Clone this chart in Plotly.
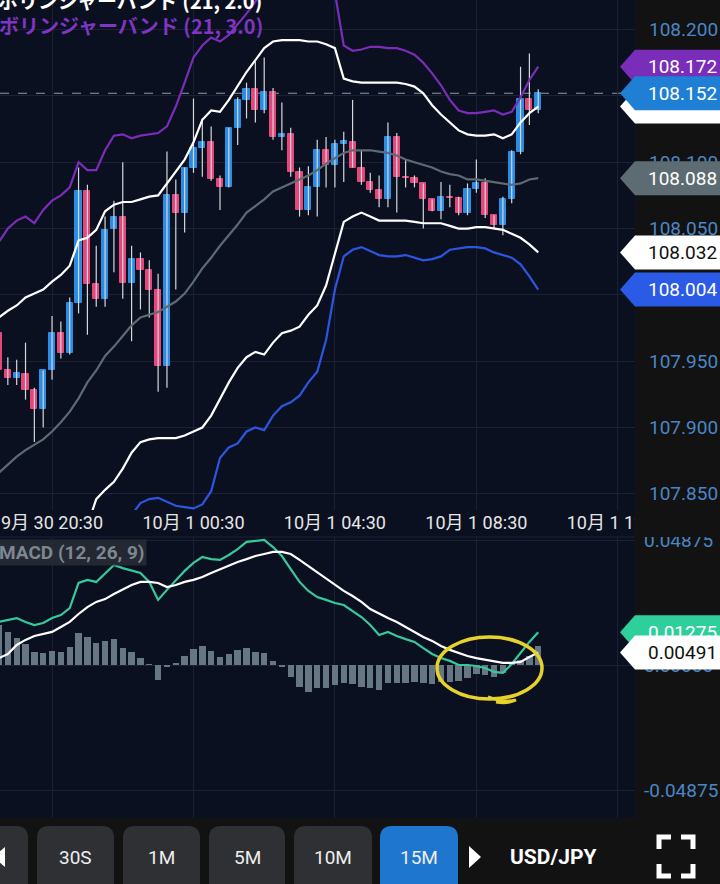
import pandas as pd
import plotly.graph_objects as go

# ---------------- data ----------------
times = pd.date_range("2019-09-30 19:00", periods=62, freq="15min")

open_ = [107.971,107.943,107.937,107.940,107.928,107.914,107.943,107.971,107.956,107.994,
         108.078,108.008,107.997,108.050,108.059,108.009,108.027,108.019,108.004,107.946,
         108.075,108.062,108.096,108.111,108.115,108.087,108.081,108.126,108.147,108.155,
         108.139,108.153,108.119,108.121,108.093,108.064,108.081,108.109,108.098,108.114,
         108.115,108.096,108.085,108.079,108.072,108.119,108.089,108.088,108.084,108.072,
         108.063,108.074,108.073,108.062,108.080,108.084,108.060,108.053,108.072,108.108,
         108.148,108.139]
high = [107.979,107.953,107.951,107.964,107.930,107.943,107.984,107.980,107.998,108.096,
        108.083,108.037,108.059,108.071,108.100,108.037,108.032,108.026,108.016,108.108,
        108.087,108.096,108.148,108.133,108.127,108.090,108.126,108.149,108.160,108.176,
        108.179,108.156,108.145,108.126,108.096,108.097,108.117,108.119,108.117,108.123,
        108.147,108.109,108.092,108.090,108.130,108.122,108.102,108.090,108.084,108.072,
        108.085,108.083,108.074,108.084,108.102,108.088,108.060,108.074,108.109,108.172,
        108.182,108.155]
low = [107.936,107.932,107.932,107.921,107.889,107.900,107.936,107.952,107.955,107.986,
       107.970,107.991,107.991,108.017,107.997,107.965,107.989,107.983,107.927,107.930,
       108.004,108.047,108.092,108.089,108.086,108.064,108.081,108.113,108.133,108.130,
       108.137,108.117,108.109,108.089,108.059,108.060,108.059,108.081,108.081,108.085,
       108.096,108.083,108.077,108.066,108.066,108.062,108.081,108.081,108.050,108.063,
       108.057,108.066,108.060,108.060,108.077,108.058,108.050,108.045,108.069,108.106,
       108.128,108.137]
close = [107.943,107.937,107.941,107.928,107.914,107.943,107.971,107.956,107.994,108.078,
         108.008,107.997,108.049,108.059,108.009,108.027,108.019,108.004,107.946,108.075,
         108.062,108.096,108.111,108.115,108.087,108.081,108.126,108.147,108.155,108.139,
         108.153,108.119,108.121,108.093,108.064,108.081,108.109,108.098,108.114,108.116,
         108.096,108.085,108.079,108.072,108.119,108.089,108.088,108.084,108.072,108.063,
         108.074,108.073,108.062,108.080,108.084,108.060,108.053,108.072,108.108,108.148,
         108.139,108.152]

bb_mid = [107.866,107.872,107.878,107.883,107.887,107.891,107.897,107.904,107.912,107.922,
          107.934,107.943,107.954,107.961,107.969,107.977,107.983,107.985,107.987,107.991,
          107.995,108.001,108.010,108.020,108.028,108.037,108.045,108.053,108.062,108.067,
          108.072,108.078,108.081,108.084,108.087,108.090,108.094,108.099,108.103,108.107,
          108.109,108.109,108.109,108.108,108.107,108.105,108.102,108.100,108.098,108.096,
          108.093,108.091,108.090,108.087,108.087,108.086,108.085,108.084,108.083,108.084,
          108.087,108.088]
bb_up2 = [107.983,107.988,107.992,107.998,108.001,108.004,108.010,108.015,108.022,108.041,
          108.043,108.049,108.063,108.068,108.070,108.070,108.072,108.074,108.075,108.084,
          108.093,108.102,108.115,108.132,108.139,108.138,108.147,108.158,108.168,108.177,
          108.186,108.191,108.192,108.192,108.192,108.191,108.191,108.189,108.186,108.163,
          108.161,108.160,108.160,108.160,108.160,108.160,108.159,108.157,108.152,108.143,
          108.136,108.130,108.124,108.121,108.120,108.120,108.121,108.118,108.121,108.130,
          108.137,108.142]
bb_lo2 = [107.750,107.756,107.764,107.768,107.773,107.777,107.783,107.793,107.803,107.811,
          107.826,107.846,107.853,107.859,107.869,107.881,107.889,107.891,107.892,107.892,
          107.892,107.894,107.897,107.900,107.909,107.922,107.934,107.945,107.953,107.957,
          107.955,107.964,107.971,107.973,107.976,107.985,107.992,108.007,108.030,108.055,
          108.059,108.062,108.059,108.056,108.056,108.056,108.056,108.055,108.054,108.054,
          108.054,108.052,108.050,108.050,108.051,108.051,108.050,108.049,108.046,108.043,
          108.038,108.032]
bb_up3 = [108.040,108.050,108.056,108.059,108.054,108.064,108.071,108.075,108.081,108.100,
          108.094,108.094,108.109,108.120,108.121,108.118,108.120,108.121,108.122,108.127,
          108.142,108.160,108.179,108.188,108.194,108.191,108.196,108.204,108.212,108.221,
          108.232,108.240,108.244,108.246,108.246,108.245,108.243,108.237,108.228,108.188,
          108.184,108.185,108.187,108.187,108.186,108.186,108.184,108.181,108.175,108.167,
          108.158,108.147,108.139,108.137,108.137,108.138,108.139,108.136,108.138,108.149,
          108.162,108.172]
bb_lo3 = [107.692,107.698,107.707,107.711,107.716,107.721,107.725,107.738,107.748,107.755,
          107.769,107.785,107.791,107.801,107.817,107.834,107.843,107.846,107.847,107.844,
          107.841,107.840,107.839,107.842,107.852,107.877,107.885,107.888,107.897,107.900,
          107.898,107.909,107.916,107.919,107.924,107.934,107.942,107.966,108.004,108.029,
          108.034,108.036,108.033,108.030,108.029,108.029,108.030,108.028,108.026,108.027,
          108.029,108.034,108.035,108.036,108.036,108.035,108.032,108.030,108.028,108.023,
          108.014,108.004]

macd = [0.0168,0.0176,0.0183,0.0168,0.0156,0.0164,0.0183,0.0195,0.0222,0.0320,
        0.0332,0.0324,0.0359,0.0390,0.0378,0.0367,0.0359,0.0324,0.0254,0.0293,
        0.0332,0.0367,0.0398,0.0421,0.0413,0.0410,0.0429,0.0452,0.0480,0.0484,
        0.0488,0.0460,0.0425,0.0374,0.0324,0.0289,0.0265,0.0254,0.0242,0.0234,
        0.0211,0.0187,0.0156,0.0117,0.0129,0.0113,0.0101,0.0090,0.0066,0.0043,
        0.0027,0.0016,0.0000,0.0000,-0.0004,-0.0012,-0.0027,-0.0031,0.0004,0.0047,
        0.0090,0.01275]
signal = [0.0027,0.0043,0.0078,0.0098,0.0113,0.0121,0.0129,0.0148,0.0168,0.0199,
          0.0226,0.0246,0.0257,0.0277,0.0296,0.0312,0.0324,0.0324,0.0320,0.0304,
          0.0312,0.0324,0.0332,0.0343,0.0359,0.0374,0.0386,0.0402,0.0413,0.0425,
          0.0433,0.0441,0.0441,0.0433,0.0410,0.0386,0.0363,0.0339,0.0312,0.0289,
          0.0269,0.0246,0.0218,0.0199,0.0183,0.0168,0.0148,0.0129,0.0109,0.0094,
          0.0074,0.0059,0.0047,0.0035,0.0027,0.0020,0.0012,0.0008,0.0008,0.0012,
          0.0031,0.00491]
hist = [0.0156,0.0129,0.0105,0.0082,0.0051,0.0047,0.0055,0.0051,0.0070,0.0125,
        0.0109,0.0086,0.0094,0.0101,0.0066,0.0051,0.0027,0.0002,-0.0059,-0.0008,
        0.0008,0.0035,0.0062,0.0074,0.0055,0.0031,0.0043,0.0059,0.0066,0.0051,
        0.0047,0.0016,-0.0008,-0.0047,-0.0086,-0.0105,-0.0090,-0.0090,-0.0078,-0.0070,
        -0.0074,-0.0086,-0.0090,-0.0098,-0.0070,-0.0070,-0.0070,-0.0066,-0.0070,-0.0074,
        -0.0066,-0.0066,-0.0062,-0.0051,-0.0035,-0.0039,-0.0047,-0.0031,0.0004,0.0020,
        0.0035,0.0074]

x_tick_vals = ["2019-09-30 20:30", "2019-10-01 00:30", "2019-10-01 04:30",
               "2019-10-01 08:30", "2019-10-01 12:30"]
x_tick_text = ["9月 30 20:30", "10月 1 00:30", "10月 1 04:30", "10月 1 08:30", "10月 1 12:30"]
price_ticks = [107.85, 107.90, 107.95, 108.00, 108.05, 108.10, 108.15, 108.20]
macd_ticks = [-0.04875, 0.0, 0.04875]
buttons = ["30S", "1M", "5M", "10M", "15M"]
pair_label = "USD/JPY"
bb_label_2 = "ボリンジャーバンド (21, 2.0)"
bb_label_3 = "ボリンジャーバンド (21, 3.0)"
macd_label = "MACD (12, 26, 9)"

# ---------------- geometry / style ----------------
W, H = 720, 884
PW = 635
X_RANGE = ["2019-09-30 19:01:42", "2019-10-01 12:59:12"]
MAIN_RANGE = [107.8378, 108.2223]
MACD_RANGE = [-0.05967, 0.04953]
MAIN_PX = (0, 510)
MACD_PX = (538, 818)

NAVY = "#0b1020"
SIDE = "#121212"
GRID = "#1a2134"
UP = "#2a8ce2"
DOWN = "#e5477b"
PURPLE = "#7a2db8"
LOWBLUE = "#2d56e0"
MIDGREY = "#5c6b73"
MACDGREEN = "#36c99b"
HISTGREY = "#667682"
TICKBLUE = "#4a86c5"
FONT = "Roboto, Noto Sans CJK JP, sans-serif"
CJK = "Noto Sans CJK JP, Roboto, sans-serif"


def px(x):
    return x / PW


def py(y):
    return 1 - y / H


main_per_px = (MAIN_RANGE[1] - MAIN_RANGE[0]) / (MAIN_PX[1] - MAIN_PX[0])
macd_per_px = (MACD_RANGE[1] - MACD_RANGE[0]) / (MACD_PX[1] - MACD_PX[0])

fig = go.Figure()

# candle wicks
wx, wy = [], []
for t, h, l in zip(times, high, low):
    wx += [t, t, None]
    wy += [l, h, None]
fig.add_trace(go.Scatter(x=wx, y=wy, mode="lines", line=dict(color="#d4d7dc", width=1.2),
                         xaxis="x", yaxis="y", hoverinfo="skip"))

# candle bodies
body_base = [min(o, c) for o, c in zip(open_, close)]
body_h = [abs(c - o) for o, c in zip(open_, close)]
colors = [UP if c >= o else DOWN for o, c in zip(open_, close)]
fig.add_trace(go.Bar(x=times, y=body_h, base=body_base,
                     marker=dict(color=colors, line=dict(color=colors, width=1)),
                     width=15 * 60 * 1000 * 0.70, xaxis="x", yaxis="y"))

# bollinger bands
for vals, col in [(bb_mid, MIDGREY), (bb_up3, PURPLE), (bb_lo3, LOWBLUE),
                  (bb_up2, "#ffffff"), (bb_lo2, "#ffffff")]:
    fig.add_trace(go.Scatter(x=times, y=vals, mode="lines", line=dict(color=col, width=2.2),
                             xaxis="x", yaxis="y", hoverinfo="skip"))

# MACD
fig.add_trace(go.Bar(x=times, y=hist, marker=dict(color=HISTGREY, line=dict(width=0)),
                     width=15 * 60 * 1000 * 0.72, xaxis="x2", yaxis="y2"))
fig.add_trace(go.Scatter(x=times, y=macd, mode="lines", line=dict(color=MACDGREEN, width=2.2),
                         xaxis="x2", yaxis="y2"))
fig.add_trace(go.Scatter(x=times, y=signal, mode="lines", line=dict(color="#ffffff", width=2.2),
                         xaxis="x2", yaxis="y2"))

shapes = []
annotations = []

# navy chart background (both panels incl. time-label band)
shapes.append(dict(type="rect", xref="paper", yref="paper", x0=0, x1=1, y0=py(MACD_PX[1]), y1=1,
                   fillcolor=NAVY, line=dict(width=0), layer="below"))
# panel separator
shapes.append(dict(type="line", xref="paper", yref="paper", x0=0, x1=1, y0=py(537), y1=py(537),
                   line=dict(color="#1c2333", width=1), layer="below"))
# current price dashed line
shapes.append(dict(type="line", xref="paper", yref="y", x0=0, x1=1, y0=close[-1], y1=close[-1],
                   line=dict(color="#8f96a3", width=1, dash="dash"), layer="below"))

# cover the time label overflow into the price column
shapes.append(dict(type="rect", xref="paper", yref="paper", x0=px(PW), x1=px(W + 2),
                   y0=py(537), y1=py(500), fillcolor=SIDE, line=dict(width=0), layer="above"))


def tag(val, yref, per_px, fill, text=None, tcolor="#ffffff"):
    hh = 17 * per_px
    path = (f"M {px(620)},{val} L {px(635)},{val + hh} L {px(W + 2)},{val + hh} "
            f"L {px(W + 2)},{val - hh} L {px(635)},{val - hh} Z")
    shapes.append(dict(type="path", xref="paper", yref=yref, path=path, fillcolor=fill,
                       line=dict(width=0), layer="above"))
    if text:
        annotations.append(dict(x=px(646), xref="paper", y=val, yref=yref, xanchor="left",
                                yanchor="middle", text=text, showarrow=False,
                                font=dict(family=FONT, size=19, color=tcolor)))


tag(bb_up2[-1], "y", main_per_px, "#ffffff")
tag(bb_up3[-1], "y", main_per_px, PURPLE, f"{bb_up3[-1]:.3f}")
tag(close[-1], "y", main_per_px, "#1f7fd4", f"{close[-1]:.3f}")
tag(bb_mid[-1], "y", main_per_px, "#5d6c73", f"{bb_mid[-1]:.3f}")
tag(bb_lo2[-1], "y", main_per_px, "#ffffff", f"{bb_lo2[-1]:.3f}", "#111111")
tag(bb_lo3[-1], "y", main_per_px, "#2b5ae6", f"{bb_lo3[-1]:.3f}")
tag(macd[-1], "y2", macd_per_px, "#2fcf9c", f"{macd[-1]:.5f}")
tag(signal[-1], "y2", macd_per_px, "#ffffff", f"{signal[-1]:.5f}", "#111111")

# yellow hand-drawn ellipse
shapes.append(dict(type="circle", xref="paper", yref="paper", x0=px(437), x1=px(542),
                   y0=py(699), y1=py(637), line=dict(color="#e6d22a", width=3.5), layer="above"))
shapes.append(dict(type="path", xref="paper", yref="paper",
                   path=f"M {px(488)},{py(697)} Q {px(505)},{py(703)} {px(516)},{py(700)} "
                        f"Q {px(508)},{py(704)} {px(496)},{py(702)}",
                   line=dict(color="#e6d22a", width=3), layer="above"))


def note(x, y, text, size, color, family=FONT, xanchor="left", **kw):
    annotations.append(dict(x=px(x), y=py(y), xref="paper", yref="paper", xanchor=xanchor,
                            yanchor="middle", showarrow=False, text=text,
                            font=dict(family=family, size=size, color=color), **kw))


# legends
note(-4, 1, f"<b>{bb_label_2}</b>", 20, "#ffffff", CJK)
note(-3, 25, f"<b>{bb_label_3}</b>", 20, "#7f35c2", CJK)
note(-3, 552, f"<b>{macd_label}</b>", 19, "#7d878f",
     bgcolor="rgba(38,43,52,0.9)", borderpad=1)


def rrect(x0, y0, x1, y1, r):
    return (f"M {px(x0 + r)},{py(y0)} L {px(x1 - r)},{py(y0)} Q {px(x1)},{py(y0)} {px(x1)},{py(y0 + r)} "
            f"L {px(x1)},{py(y1 - r)} Q {px(x1)},{py(y1)} {px(x1 - r)},{py(y1)} "
            f"L {px(x0 + r)},{py(y1)} Q {px(x0)},{py(y1)} {px(x0)},{py(y1 - r)} "
            f"L {px(x0)},{py(y0 + r)} Q {px(x0)},{py(y0)} {px(x0 + r)},{py(y0)} Z")


# bottom toolbar
btn_spans = [(-40, 28), (37, 114), (123, 200), (209, 285), (294, 372), (380, 458)]
for i, (a, b) in enumerate(btn_spans):
    col = "#1f76cf" if i == len(btn_spans) - 1 else "#2e3034"
    shapes.append(dict(type="path", xref="paper", yref="paper", path=rrect(a, 826, b, 904, 12),
                       fillcolor=col, line=dict(width=0), layer="above"))
for (a, b), lab in zip(btn_spans[1:], buttons):
    note((a + b) / 2, 857, lab, 19, "#eeeeee", xanchor="center")
# arrows
shapes.append(dict(type="path", xref="paper", yref="paper",
                   path=f"M {px(5)},{py(847)} L {px(-7)},{py(857)} L {px(5)},{py(867)} Z",
                   fillcolor="#ffffff", line=dict(width=0), layer="above"))
shapes.append(dict(type="path", xref="paper", yref="paper",
                   path=f"M {px(469)},{py(846)} L {px(481)},{py(857)} L {px(469)},{py(868)} Z",
                   fillcolor="#ffffff", line=dict(width=0), layer="above"))
note(553, 857, f"<b>{pair_label}</b>", 21, "#ffffff", xanchor="center")
# fullscreen icon
for pts in [[(659, 849), (659, 837), (671, 837)], [(681, 837), (693, 837), (693, 849)],
            [(659, 864), (659, 876), (671, 876)], [(681, 876), (693, 876), (693, 864)]]:
    p = "M " + " L ".join(f"{px(x)},{py(y)}" for x, y in pts)
    shapes.append(dict(type="path", xref="paper", yref="paper", path=p,
                       line=dict(color="#ffffff", width=5), layer="above"))

fig.update_layout(
    template="none",
    width=W, height=H,
    margin=dict(l=0, r=W - PW, t=0, b=0, pad=0, autoexpand=False),
    paper_bgcolor=SIDE, plot_bgcolor=NAVY,
    showlegend=False, bargap=0,
    xaxis=dict(type="date", domain=[0, 1], anchor="y", range=X_RANGE, automargin=False,
               tickvals=x_tick_vals, ticktext=x_tick_text, showgrid=True, gridcolor=GRID,
               gridwidth=1, zeroline=False, showline=False, ticks="",
               tickfont=dict(family=FONT, size=18, color="#e6e6e6"),
               ticklabeloverflow="allow", fixedrange=True),
    xaxis2=dict(type="date", domain=[0, 1], anchor="y2", matches="x", range=X_RANGE,
                automargin=False,
                tickvals=x_tick_vals, showticklabels=False, showgrid=True, gridcolor=GRID,
                zeroline=False, showline=False, ticks=""),
    yaxis=dict(domain=[py(MAIN_PX[1]), py(MAIN_PX[0])], range=MAIN_RANGE, side="right",
               anchor="x", automargin=False,
               tickvals=price_ticks, ticktext=[f"{v:.3f}" for v in price_ticks],
               showgrid=True, gridcolor=GRID, zeroline=False, showline=False, ticks="",
               ticklabelstandoff=13,
               tickfont=dict(family=FONT, size=19, color=TICKBLUE)),
    yaxis2=dict(domain=[py(MACD_PX[1]), py(MACD_PX[0])], range=MACD_RANGE, side="right",
                anchor="x2", automargin=False,
                tickvals=macd_ticks, ticktext=[f"{v:.5f}" for v in macd_ticks],
                showgrid=True, gridcolor=GRID, zeroline=False, showline=False, ticks="",
                ticklabelstandoff=8,
                tickfont=dict(family=FONT, size=19, color=TICKBLUE)),
    shapes=shapes, annotations=annotations,
)

fig.write_html("out.html", config={"displayModeBar": False},
               post_script="document.body.style.margin='0';")
